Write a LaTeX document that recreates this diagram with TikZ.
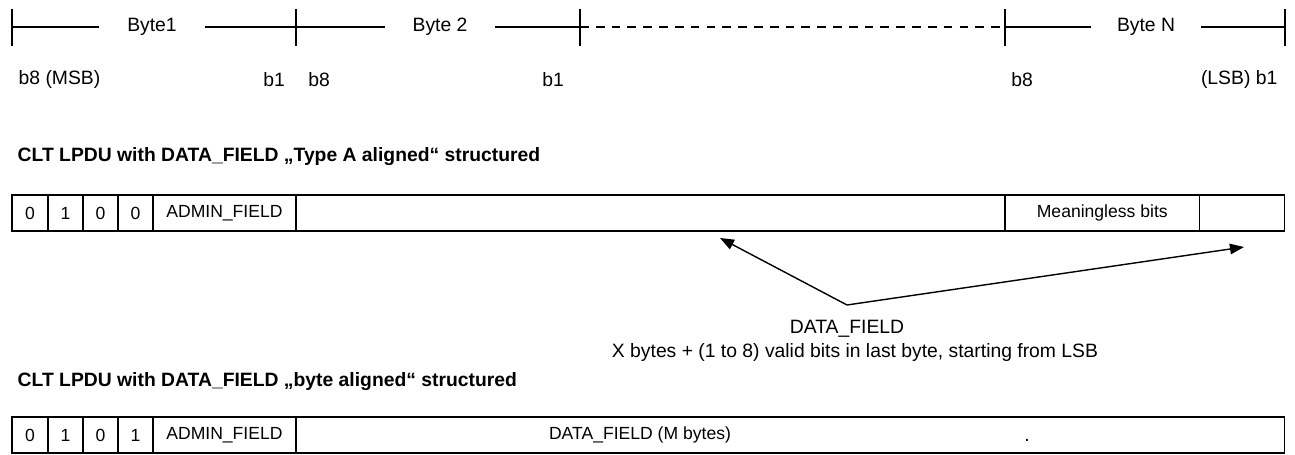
\documentclass[tikz,border=0pt]{standalone}
\usepackage{fontspec}
\setmainfont{Liberation Sans}
\usepackage{tikz}
\usetikzlibrary{positioning,arrows.meta}

\begin{document}
\begin{tikzpicture}[x=0.02cm,y=-0.02cm,line width=0.8pt,
    cell/.style={rectangle, draw, minimum height=0.72cm, inner sep=0pt, outer sep=0pt, font=\fontsize{10}{12}\selectfont},
    lbl/.style={font=\fontsize{11}{13}\selectfont, inner sep=0pt},
    title/.style={font=\fontsize{11}{13}\selectfont\bfseries, anchor=west, inner sep=0pt},
    pointer/.style={-{Triangle[length=8pt,width=6pt]}}]
    \useasboundingbox (0,0) rectangle (1295,455);

    % byte ruler
    \coordinate (t1) at (12,27);
    \coordinate (t2) at (296,27);
    \coordinate (t3) at (580,27);
    \coordinate (t4) at (1005,27);
    \coordinate (t5) at (1285,27);
    \node[lbl, minimum width=2.1cm] (byte1) at (152,27) {Byte1};
    \node[lbl, minimum width=2.18cm] (byte2) at (440,27) {Byte 2};
    \node[lbl, minimum width=2.16cm] (byteN) at (1146,27) {Byte N};
    \foreach \t in {t1,t2,t3,t4,t5}
        \draw (\t) +(0,-18) -- +(0,19);
    \draw (t1) -- (byte1.west) (byte1.east) -- (t2) -- (byte2.west) (byte2.east) -- (t3);
    \draw[dash pattern=on 5pt off 4pt] (t3) -- (t4);
    \draw (t4) -- (byteN.west) (byteN.east) -- (t5);

    \node[lbl, anchor=west] (msb) at (18,80) {b8 (MSB)};
    \node[lbl] (b1first) at (274,80) {b1};
    \node[lbl] (b8second) at (319,80) {b8};
    \node[lbl] (b1second) at (553,80) {b1};
    \node[lbl] (b8last) at (1022,80) {b8};
    \node[lbl, anchor=east] (lsb) at (1278,80) {(LSB) b1};

    % Type A aligned
    \node[title] (titleA) at (17,157) {CLT LPDU with DATA\_FIELD „Type A aligned“ structured};
    \node[cell, minimum width=0.72cm, anchor=west] (a1) at (12,213) {0};
    \node[cell, minimum width=0.7cm, right=0pt of a1] (a2) {1};
    \node[cell, minimum width=0.7cm, right=0pt of a2] (a3) {0};
    \node[cell, minimum width=0.7cm, right=0pt of a3] (a4) {0};
    \node[cell, minimum width=2.86cm, right=0pt of a4] (adminA) {ADMIN\_FIELD};
    \node[cell, minimum width=14.18cm, right=0pt of adminA] (dataA) {};
    \node[cell, minimum width=3.9cm, right=0pt of dataA] (meaning) {Meaningless bits};
    \node[cell, minimum width=1.7cm, right=0pt of meaning] (lastA) {};

    \coordinate (fork) at (847,305);
    \coordinate (tipL) at (720,238);
    \coordinate (tipR) at (1244,247);
    \draw[pointer] (fork) -- (tipL);
    \draw[pointer] (fork) -- (tipR);
    \node[lbl] (dfield) at (847,329) {DATA\_FIELD};
    \node[lbl] (dfnote) at (855,353) {X bytes + (1 to 8) valid bits in last byte, starting from LSB};

    % byte aligned
    \node[title] (titleB) at (17,382) {CLT LPDU with DATA\_FIELD „byte aligned“ structured};
    \node[cell, minimum width=0.72cm, anchor=west] (b1) at (12,435) {0};
    \node[cell, minimum width=0.7cm, right=0pt of b1] (b2) {1};
    \node[cell, minimum width=0.7cm, right=0pt of b2] (b3) {0};
    \node[cell, minimum width=0.7cm, right=0pt of b3] (b4) {1};
    \node[cell, minimum width=2.86cm, right=0pt of b4] (adminB) {ADMIN\_FIELD};
    \node[cell, minimum width=19.78cm, right=0pt of adminB] (dataB) {};
    \node[lbl, font=\fontsize{10}{12}\selectfont] (mbytes) at (640,435) {DATA\_FIELD (M bytes)};
    \node[lbl, anchor=base] (dot) at (1027,442) {.};
\end{tikzpicture}
\end{document}
